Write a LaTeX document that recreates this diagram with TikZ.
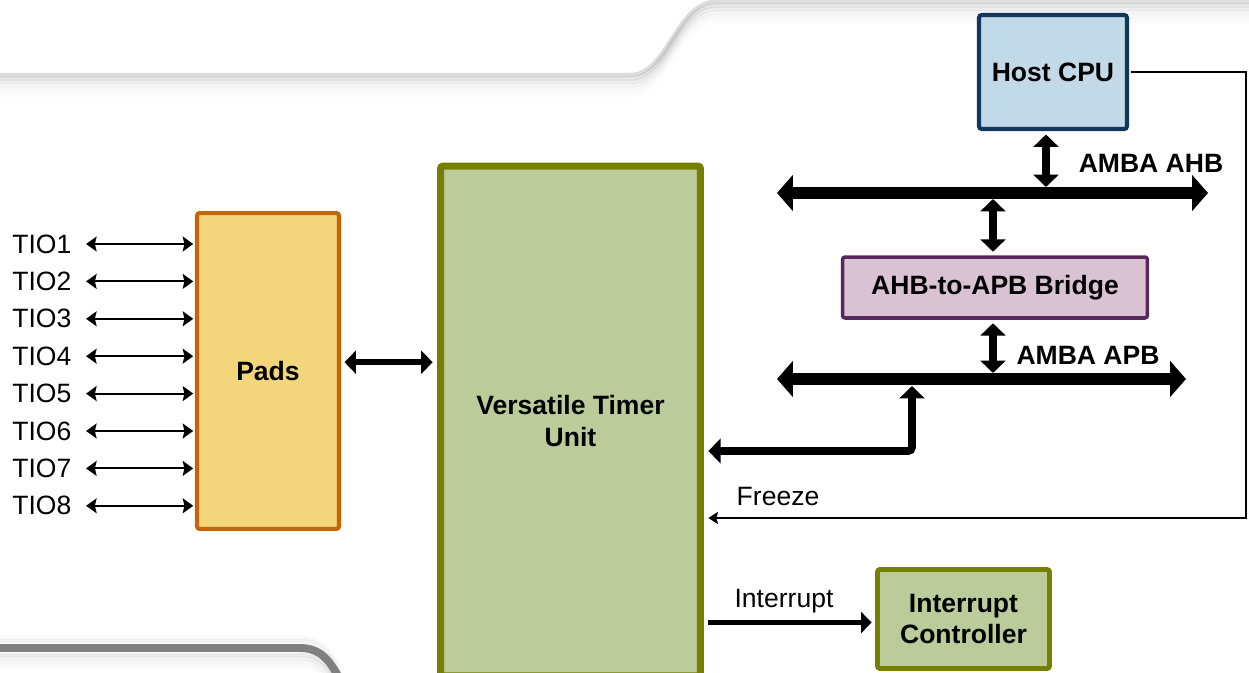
\documentclass[tikz,border=0pt]{standalone}
\usepackage{fontspec}
\setmainfont{Liberation Sans}
\usepackage{tikz}
\usetikzlibrary{positioning}
\usetikzlibrary{arrows.meta}
\usetikzlibrary{calc}
\definecolor{padfill}{RGB}{243,214,124}
\definecolor{paddraw}{RGB}{197,101,10}
\definecolor{vtufill}{RGB}{187,204,154}
\definecolor{vtudraw}{RGB}{118,128,0}
\definecolor{cpufill}{RGB}{194,217,232}
\definecolor{cpudraw}{RGB}{17,55,95}
\definecolor{brgfill}{RGB}{217,195,211}
\definecolor{brgdraw}{RGB}{88,40,92}
\newcommand{\lblfont}{\fontsize{15.1}{17.8}\selectfont}

\begin{document}
\begin{tikzpicture}[x=0.02cm, y=-0.02cm]
	\useasboundingbox (0,0) rectangle (1249,673);
	\clip (0,0) rectangle (1249,673);

	% background decoration
	\begin{scope}[line cap=round]
	    \foreach \s/\o in {0/0.22,2/0.16,4/0.11,6/0.07,8/0.045,10/0.025,12/0.012}
	        \draw[black!60, line width=2.5pt, opacity=\o, yshift=-\s pt]
	            (-5,75) -- (630,75) .. controls (668,75) and (676,2) .. (716,2) -- (1260,2);
	    \foreach \s/\o in {-10/0.03,-8/0.05,-6/0.08,-4/0.13,4/0.08,6/0.04}
	        \draw[black!60, line width=2.5pt, opacity=\o, yshift=\s pt]
	            (-5,648) -- (300,648) .. controls (320,648) and (330,660) .. (340,680);
	    \draw[black!50, line width=4.5pt]
	        (-5,648) -- (300,648) .. controls (320,648) and (330,660) .. (340,680);
	\end{scope}

	\begin{scope}[every node/.style={draw, rounded corners=1.5pt, align=center, inner sep=0pt,
	              font=\bfseries\lblfont}]
	    \node (pads) [fill=padfill, draw=paddraw, line width=2.3pt,
	                  minimum width=2.84cm, minimum height=6.32cm] at (268,371) {Pads};
	    \node (vtu) [fill=vtufill, draw=vtudraw, line width=4pt,
	                 minimum width=5.2cm, minimum height=10.2cm] at (570.5,421) {Versatile Timer\\Unit};
	    \node (cpu) [fill=cpufill, draw=cpudraw, line width=2.3pt,
	                 minimum width=2.96cm, minimum height=2.28cm] at (1053,72) {Host CPU};
	    \node (bridge) [fill=brgfill, draw=brgdraw, line width=2pt,
	                    minimum width=6.1cm, minimum height=1.22cm] at (995,287.5) {AHB-to-APB Bridge};
	    \node (intc) [fill=vtufill, draw=vtudraw, line width=2.8pt,
	                  minimum width=3.44cm, minimum height=1.98cm] at (963.5,619) {Interrupt\\Controller};
	\end{scope}

	% bus end points
	\coordinate (ahbL) at (777,193);
	\coordinate (ahbR) at (1208,193);
	\coordinate (apbL) at (777,379);
	\coordinate (apbR) at (1186,379);
	\coordinate (ahbTop) at (1046,187);
	\coordinate (ahbBot) at (993,199);
	\coordinate (apbTop) at (993,373);
	\coordinate (apbTap) at (912,386);
	\coordinate (apbLink) at (912,451);
	\coordinate (frzR) at (1246,518);

	\node (ahbLbl) [font=\bfseries\lblfont] at (1151,163) {AMBA AHB};
	\node (apbLbl) [font=\bfseries\lblfont] at (1088,355) {AMBA APB};
	\node (frzLbl) [font=\lblfont] at (778,496) {Freeze};
	\node (intLbl) [font=\lblfont] at (784,601) {Interrupt};

	\begin{scope}[bus/.style={line width=6.5pt,
	                  {Triangle[width=20pt,length=9pt]}-{Triangle[width=20pt,length=9pt]}},
	              vbus/.style={line width=4.3pt,
	                  {Triangle[width=14pt,length=7pt]}-{Triangle[width=14pt,length=7pt]}}]
	    \draw[bus] (ahbL) -- (ahbR);
	    \draw[bus] (apbL) -- (apbR);
	    \draw[vbus] ([yshift=-2pt]cpu.south -| ahbTop) -- (ahbTop);
	    \draw[vbus] (ahbBot) -- ([yshift=2pt]bridge.north -| ahbBot);
	    \draw[vbus] ([yshift=-2pt]bridge.south -| apbTop) -- (apbTop);
	    \draw[vbus, rounded corners=2pt] ([xshift=2.5pt]vtu.east |- apbLink) -| (apbTap);
	    \draw[line width=3.4pt, {Triangle[width=13pt,length=6.5pt]}-{Triangle[width=13pt,length=6.5pt]}]
	        ([xshift=2pt,yshift=5pt]pads.east) -- ([xshift=-2.5pt,yshift=5pt]vtu.west |- pads.east);
	    \draw[line width=2.8pt, -{Triangle[width=12pt,length=6pt]}]
	        ([xshift=2pt,yshift=-2pt]vtu.east |- intc.west) -- ([xshift=-2pt,yshift=-2pt]intc.west);
	\end{scope}

	% freeze line
	\draw[line width=1.1pt, -{Stealth[width=7pt,length=5.5pt,inset=1pt]}]
	    ([xshift=1pt]cpu.east) -| (frzR) -- ([xshift=2.5pt]vtu.east |- frzR);

	% timer I/O pins
	\foreach \i in {1,...,8} {
	    \node (tio\i) [anchor=west, inner sep=0pt, font=\lblfont] at (12,{244+(\i-1)*37.4}) {TIO\i};
	    \draw[line width=1.1pt, {Stealth[width=8.5pt,length=6pt,inset=1pt]}-{Stealth[width=8.5pt,length=6pt,inset=1pt]}]
	        ([xshift=8.2pt]tio\i.east) -- ([xshift=-1pt]pads.west |- tio\i.east);
	}
\end{tikzpicture}
\end{document}
